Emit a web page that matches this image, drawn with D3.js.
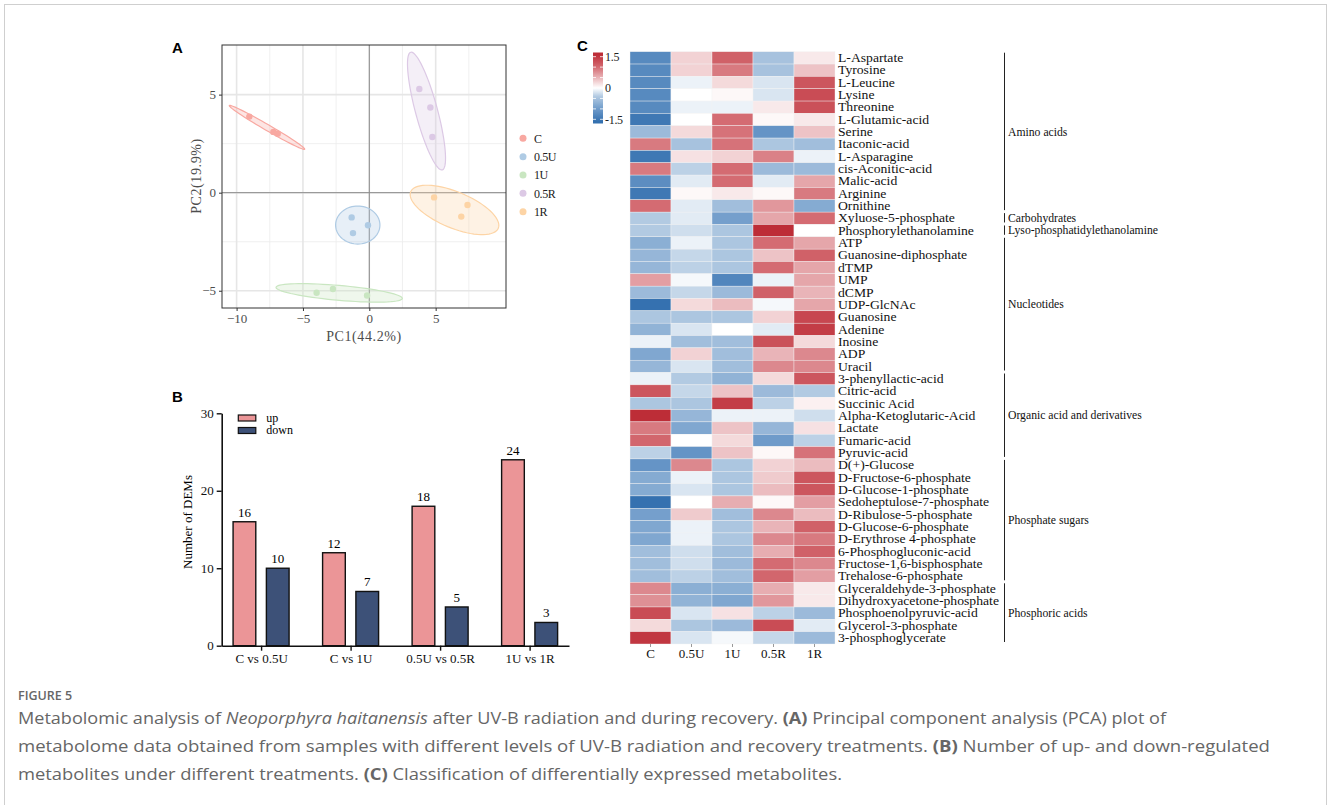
<!DOCTYPE html>
<html>
<head>
<meta charset="utf-8">
<script src="https://cdn.jsdelivr.net/npm/d3@7"></script>
<style>
  body { margin: 0; background: #fff; }
  svg { display: block; }
  .cap { font-family: "Open Sans", sans-serif; fill: #666; }
</style>
</head>
<body>
<div id="chart"></div>
<script>
const SERIF = "Liberation Serif, Times New Roman, serif";

// ---- data: panel A (PCA) ----
const pcaGroups = ["C", "0.5U", "1U", "0.5R", "1R"];
const pcaColors = ["#F8A8A1", "#AFCBE4", "#C9E6C1", "#DCC9E5", "#FDD4A5"];
const pcaX = [-9.04, -7.23, -6.9, -1.33, -0.1, -1.23, -3.97, -2.74, -0.17, 3.77, 4.6, 4.75, 4.88, 7.4, 6.93];
const pcaY = [3.88, 3.1, 3.01, -1.26, -1.66, -2.06, -5.1, -4.91, -5.24, 5.29, 4.34, 2.84, -0.24, -0.63, -1.22];
const pcaGroupOf = ["C", "C", "C", "0.5U", "0.5U", "0.5U", "1U", "1U", "1U", "0.5R", "0.5R", "0.5R", "1R", "1R", "1R"];
// ellipse centre + two half-axis vectors, in PC units
const ellCx = [-7.71, -0.87, -2.27, 4.31, 6.42];
const ellCy = [3.33, -1.65, -5.11, 4.16, -0.88];
const ellU = [[2.84, -1.115], [1.67, 0], [4.76, -0.28], [-1.19, 3.0], [3.3, -0.93]];
const ellV = [[-0.11, -0.13], [0, 0.97], [0, 0.38], [0.8, 0.15], [-0.52, -0.85]];

// ---- data: panel B (bars) ----
const comparisons = ["C vs 0.5U", "C vs 1U", "0.5U vs 0.5R", "1U vs 1R"];
const upCounts = [16, 12, 18, 24];
const downCounts = [10, 7, 5, 3];

// ---- data: panel C (heatmap) ----
const samples = ["C", "0.5U", "1U", "0.5R", "1R"];
const metabolites = [
  "L-Aspartate", "Tyrosine", "L-Leucine", "Lysine", "Threonine", "L-Glutamic-acid",
  "Serine", "Itaconic-acid", "L-Asparagine", "cis-Aconitic-acid", "Malic-acid", "Arginine",
  "Ornithine", "Xyluose-5-phosphate", "Phosphorylethanolamine", "ATP", "Guanosine-diphosphate",
  "dTMP", "UMP", "dCMP", "UDP-GlcNAc", "Guanosine", "Adenine", "Inosine", "ADP", "Uracil",
  "3-phenyllactic-acid", "Citric-acid", "Succinic Acid", "Alpha-Ketoglutaric-Acid", "Lactate",
  "Fumaric-acid", "Pyruvic-acid", "D(+)-Glucose", "D-Fructose-6-phosphate",
  "D-Glucose-1-phosphate", "Sedoheptulose-7-phosphate", "D-Ribulose-5-phosphate",
  "D-Glucose-6-phosphate", "D-Erythrose 4-phosphate", "6-Phosphogluconic-acid",
  "Fructose-1,6-bisphosphate", "Trehalose-6-phosphate", "Glyceraldehyde-3-phosphate",
  "Dihydroxyacetone-phosphate", "Phosphoenolpyruvic-acid", "Glycerol-3-phosphate",
  "3-phosphoglycerate"
];
const heatValues = [
  [-1.25, 0.3, 1.1, -0.5, 0.15],
  [-1.25, 0.3, 0.9, -0.5, 0.4],
  [-1.25, -0.1, 0.25, -0.2, 1.2],
  [-1.25, 0.0, 0.05, -0.2, 1.3],
  [-1.25, -0.1, -0.1, 0.15, 1.25],
  [-1.5, 0.0, 1.0, 0.05, 0.15],
  [-0.6, 0.25, 0.95, -1.1, 0.4],
  [0.9, -0.5, 0.95, -0.45, -0.55],
  [-1.5, 0.2, 0.3, 0.85, -0.1],
  [0.9, -0.35, 1.0, -0.6, -0.6],
  [-1.2, -0.15, 1.0, -0.15, 0.6],
  [-1.5, 0.05, 0.15, 0.05, 0.9],
  [1.0, -0.15, -0.55, 0.7, -0.8],
  [-0.4, -0.15, -0.95, 0.6, 1.0],
  [-0.4, -0.25, -0.45, 1.6, 0.0],
  [-0.75, -0.1, -0.45, 1.0, 0.6],
  [-0.65, -0.3, -0.45, 0.4, 1.1],
  [-0.65, -0.35, -0.45, 1.0, 0.6],
  [0.65, -0.05, -1.3, -0.1, 0.6],
  [-0.6, -0.3, -0.6, 1.1, 0.5],
  [-1.6, 0.25, 0.45, -0.05, 0.6],
  [-0.45, -0.45, -0.45, 0.3, 1.35],
  [-0.7, -0.2, 0.0, -0.15, 1.45],
  [-0.1, -0.55, -0.55, 1.25, 0.25],
  [-0.85, 0.3, -0.55, 0.5, 0.8],
  [-0.65, -0.2, -0.55, 0.8, 0.8],
  [-0.1, -0.4, -0.7, 0.25, 1.2],
  [1.2, -0.3, 0.4, -0.6, -0.4],
  [-0.45, -0.45, 1.45, -0.35, 0.1],
  [1.6, -0.65, -0.1, -0.1, -0.25],
  [0.9, -0.85, 0.4, -0.65, 0.2],
  [1.05, 0.0, 0.25, -1.0, -0.35],
  [-0.35, -1.1, 0.4, 0.05, 0.95],
  [-1.1, 0.8, -0.45, 0.3, 0.45],
  [-0.8, -0.1, -0.45, 0.35, 1.2],
  [-0.8, -0.2, -0.45, 0.45, 1.2],
  [-1.6, 0.0, 0.55, 0.05, 0.65],
  [-0.95, 0.35, -0.55, 0.8, 0.45],
  [-0.85, -0.1, -0.45, 0.5, 1.1],
  [-0.85, -0.1, -0.45, 0.8, 0.9],
  [-0.55, -0.25, -0.55, 0.55, 1.1],
  [-0.55, -0.25, -0.6, 1.0, 0.8],
  [-0.55, -0.35, -0.55, 1.05, 0.65],
  [0.8, -0.75, -0.75, 0.55, 0.15],
  [0.75, -0.7, -0.85, 0.7, 0.15],
  [1.3, -0.2, 0.2, -0.35, -0.6],
  [0.25, -0.45, -0.6, 1.3, -0.15],
  [1.5, -0.2, -0.05, -0.3, -0.6]
];
const classNames = ["Amino acids", "Carbohydrates", "Lyso-phosphatidylethanolamine", "Nucleotides",
  "Organic acid and derivatives", "Phosphate sugars", "Phosphoric acids"];
const classFirst = [0, 13, 14, 15, 26, 33, 43];
const classLast = [12, 13, 14, 25, 32, 42, 47];
const legendTicks = [1.5, 0, -1.5];

const svg = d3.select("#chart").append("svg")
  .attr("width", 1328)
  .attr("height", 805);

// outer frame
svg.append("rect")
  .attr("x", 4.5).attr("y", 4.5)
  .attr("width", 1322).attr("height", 830)
  .attr("fill", "none")
  .attr("stroke", "#cfcfcf");

function panelLabel(txt, x, y) {
  svg.append("text")
    .attr("x", x).attr("y", y)
    .attr("font-family", "Liberation Sans, Arial, sans-serif")
    .attr("font-weight", "bold")
    .attr("font-size", 15)
    .text(txt);
}

// ================= Panel A =================
const ax = d3.scaleLinear().domain([-11.1, 10.3]).range([222, 506]);
const ay = d3.scaleLinear().domain([-5.88, 7.53]).range([308, 45]);
const pcaColor = d3.scaleOrdinal(pcaGroups, pcaColors);

const gA = svg.append("g");
gA.append("rect")
  .attr("x", 222).attr("y", 45)
  .attr("width", 284).attr("height", 263)
  .attr("fill", "#fff");

// grid
const xMinor = [-7.5, -2.5, 2.5, 7.5], xMajor = [-10, -5, 0, 5];
const yMinor = [-2.5, 2.5], yMajor = [-5, 0, 5];
gA.selectAll(".vminor").data(xMinor).join("line")
  .attr("x1", d => ax(d)).attr("x2", d => ax(d))
  .attr("y1", 45).attr("y2", 308)
  .attr("stroke", "#ececec").attr("stroke-width", 0.8);
gA.selectAll(".hminor").data(yMinor).join("line")
  .attr("y1", d => ay(d)).attr("y2", d => ay(d))
  .attr("x1", 222).attr("x2", 506)
  .attr("stroke", "#ececec").attr("stroke-width", 0.8);
gA.selectAll(".vmajor").data(xMajor).join("line")
  .attr("x1", d => ax(d)).attr("x2", d => ax(d))
  .attr("y1", 45).attr("y2", 308)
  .attr("stroke", "#e6e6e6").attr("stroke-width", 1.6);
gA.selectAll(".hmajor").data(yMajor).join("line")
  .attr("y1", d => ay(d)).attr("y2", d => ay(d))
  .attr("x1", 222).attr("x2", 506)
  .attr("stroke", "#e6e6e6").attr("stroke-width", 1.6);

// zero lines
gA.append("line")
  .attr("x1", ax(0)).attr("x2", ax(0)).attr("y1", 45).attr("y2", 308)
  .attr("stroke", "#8a8a8a").attr("stroke-width", 1);
gA.append("line")
  .attr("y1", ay(0)).attr("y2", ay(0)).attr("x1", 222).attr("x2", 506)
  .attr("stroke", "#8a8a8a").attr("stroke-width", 1);

// confidence ellipses
const ellLine = d3.line().x(d => ax(d[0])).y(d => ay(d[1])).curve(d3.curveLinearClosed);
pcaGroups.forEach((g, i) => {
  const pts = d3.range(72).map(k => {
    const t = k / 72 * 2 * Math.PI;
    return [
      ellCx[i] + Math.cos(t) * ellU[i][0] + Math.sin(t) * ellV[i][0],
      ellCy[i] + Math.cos(t) * ellU[i][1] + Math.sin(t) * ellV[i][1]
    ];
  });
  gA.append("path")
    .attr("d", ellLine(pts))
    .attr("fill", pcaColor(g))
    .attr("fill-opacity", 0.3)
    .attr("stroke", pcaColor(g))
    .attr("stroke-width", 1.2);
});

// sample points
gA.selectAll(".pt").data(pcaX).join("circle")
  .attr("cx", d => ax(d))
  .attr("cy", (d, i) => ay(pcaY[i]))
  .attr("r", 3.2)
  .attr("fill", (d, i) => pcaColor(pcaGroupOf[i]));

// frame
gA.append("rect")
  .attr("x", 222).attr("y", 45)
  .attr("width", 284).attr("height", 263)
  .attr("fill", "none")
  .attr("stroke", "#333").attr("stroke-width", 1);

// axes
const axA = gA.append("g")
  .attr("transform", "translate(0,308)")
  .call(d3.axisBottom(ax).tickValues(xMajor).tickSize(3).tickPadding(3));
const ayA = gA.append("g")
  .attr("transform", "translate(222,0)")
  .call(d3.axisLeft(ay).tickValues(yMajor).tickSize(3).tickPadding(3));
[axA, ayA].forEach(a => {
  a.attr("font-family", SERIF).attr("font-size", 13);
  a.select(".domain").remove();
  a.selectAll("line").attr("stroke", "#333");
  a.selectAll("text").attr("fill", "#4d4d4d");
});

gA.append("text")
  .attr("font-family", SERIF)
  .attr("x", 364).attr("y", 341)
  .attr("text-anchor", "middle")
  .attr("font-size", 14)
  .attr("fill", "#4d4d4d")
  .attr("letter-spacing", 0.6)
  .text("PC1(44.2%)");
gA.append("text")
  .attr("font-family", SERIF)
  .attr("transform", "translate(201,176) rotate(-90)")
  .attr("text-anchor", "middle")
  .attr("font-size", 14)
  .attr("fill", "#4d4d4d")
  .attr("letter-spacing", 0.6)
  .text("PC2(19.9%)");

// legend
const legA = gA.selectAll(".leg").data(pcaGroups).join("g")
  .attr("transform", (d, i) => `translate(523,${138.3 + i * 18.35})`);
legA.append("circle").attr("r", 3.5).attr("fill", d => pcaColor(d));
legA.append("text")
  .attr("font-family", SERIF)
  .attr("x", 11).attr("dy", "0.35em")
  .attr("font-size", 12)
  .attr("fill", "#222")
  .attr("letter-spacing", -0.4)
  .text(d => d);

panelLabel("A", 172, 53);

// ================= Panel B =================
const bx = d3.scalePoint().domain(comparisons).range([221.7, 569]).padding(0.44);
const by = d3.scaleLinear().domain([0, 30]).range([645.7, 413.3]);
const barW = 22.7, barGap = 5.3;
const gB = svg.append("g");

gB.selectAll(".up").data(upCounts).join("rect")
  .attr("x", (d, i) => bx(comparisons[i]) - barGap - barW)
  .attr("y", d => by(d))
  .attr("width", barW)
  .attr("height", d => by(0) - by(d))
  .attr("fill", "#EB9597")
  .attr("stroke", "#111").attr("stroke-width", 1.4);
gB.selectAll(".down").data(downCounts).join("rect")
  .attr("x", (d, i) => bx(comparisons[i]) + barGap)
  .attr("y", d => by(d))
  .attr("width", barW)
  .attr("height", d => by(0) - by(d))
  .attr("fill", "#3D5178")
  .attr("stroke", "#111").attr("stroke-width", 1.4);

gB.selectAll(".upLab").data(upCounts).join("text")
  .attr("font-family", SERIF)
  .attr("x", (d, i) => bx(comparisons[i]) - barGap - barW / 2)
  .attr("y", d => by(d) - 5)
  .attr("text-anchor", "middle")
  .attr("font-size", 13)
  .text(d => d);
gB.selectAll(".downLab").data(downCounts).join("text")
  .attr("font-family", SERIF)
  .attr("x", (d, i) => bx(comparisons[i]) + barGap + barW / 2)
  .attr("y", d => by(d) - 5)
  .attr("text-anchor", "middle")
  .attr("font-size", 13)
  .text(d => d);

const bxAxis = gB.append("g")
  .attr("transform", `translate(0,${by(0)})`)
  .call(d3.axisBottom(bx).tickSize(5).tickSizeOuter(0).tickPadding(3));
const byAxis = gB.append("g")
  .attr("transform", "translate(221.7,0)")
  .call(d3.axisLeft(by).tickValues([0, 10, 20, 30]).tickSize(5).tickSizeOuter(0).tickPadding(3));
[bxAxis, byAxis].forEach(a => {
  a.attr("font-family", SERIF).attr("font-size", 13);
  a.select(".domain").attr("stroke", "#111").attr("stroke-width", 1.6);
  a.selectAll("line").attr("stroke", "#111").attr("stroke-width", 1.4);
  a.selectAll("text").attr("fill", "#111");
});

gB.append("text")
  .attr("font-family", SERIF)
  .attr("transform", "translate(192,522) rotate(-90)")
  .attr("text-anchor", "middle")
  .attr("font-size", 13)
  .text("Number of DEMs");

const legB = gB.selectAll(".legB").data([["up", "#EB9597"], ["down", "#3D5178"]]).join("g")
  .attr("transform", (d, i) => `translate(238.3,${418 + i * 12.5})`);
legB.append("rect")
  .attr("y", -3)
  .attr("width", 17.5).attr("height", 6)
  .attr("fill", d => d[1])
  .attr("stroke", "#111").attr("stroke-width", 1.2);
legB.append("text")
  .attr("font-family", SERIF)
  .attr("x", 28).attr("dy", "0.33em")
  .attr("font-size", 12)
  .text(d => d[0]);

panelLabel("B", 172, 402);

// ================= Panel C =================
const hx = d3.scaleBand().domain(samples).range([630, 835]);
const hy = d3.scaleBand().domain(metabolites).range([51.7, 644]);
const heatColor = d3.scaleLinear()
  .domain([-1.6, -1.0, -0.4, 0, 0.4, 1.0, 1.6])
  .range(["#3571B0", "#6F9BCA", "#B2CAE2", "#FFFFFF", "#EDC3C6", "#D46B72", "#BD2D37"])
  .clamp(true);
const gC = svg.append("g");

const cells = [];
heatValues.forEach((row, r) => row.forEach((v, c) => cells.push({ r, c, v })));
gC.selectAll(".cell").data(cells).join("rect")
  .attr("x", d => hx(samples[d.c]))
  .attr("y", d => hy(metabolites[d.r]))
  .attr("width", hx.bandwidth())
  .attr("height", hy.bandwidth())
  .attr("fill", d => heatColor(d.v))
  .attr("stroke", "#f2f2f2")
  .attr("stroke-width", 0.4);

// row labels (slightly stretched, like the original export)
const rowLabG = gC.append("g")
  .attr("transform", "translate(838,0) scale(1.14,1)");
rowLabG.selectAll(".rowLab").data(metabolites).join("text")
  .attr("font-family", SERIF)
  .attr("x", 0)
  .attr("y", d => hy(d) + hy.bandwidth() / 2)
  .attr("dy", "0.35em")
  .attr("font-size", 12)
  .attr("fill", "#111")
  .text(d => d);

// column labels
const hxAxis = gC.append("g")
  .attr("transform", "translate(0,644)")
  .call(d3.axisBottom(hx).tickSize(3).tickPadding(2));
hxAxis.attr("font-family", SERIF).attr("font-size", 13);
hxAxis.select(".domain").remove();
hxAxis.selectAll("line").attr("stroke", "#999");
hxAxis.selectAll("text").attr("fill", "#111");

// class brackets
classNames.forEach((name, i) => {
  const y0 = hy(metabolites[classFirst[i]]) + 1;
  const y1 = hy(metabolites[classLast[i]]) + hy.bandwidth() - 2;
  gC.append("line")
    .attr("x1", 1004.5).attr("x2", 1004.5)
    .attr("y1", y0).attr("y2", y1)
    .attr("stroke", "#222").attr("stroke-width", 1);
  gC.append("text")
    .attr("font-family", SERIF)
    .attr("x", 1008)
    .attr("y", (y0 + y1) / 2)
    .attr("dy", "0.35em")
    .attr("font-size", 11.7)
    .attr("fill", "#111")
    .text(name);
});

// colour legend
const ly = d3.scaleLinear().domain([-1.7, 1.7]).range([123.5, 52.5]);
const defs = svg.append("defs");
const grad = defs.append("linearGradient")
  .attr("id", "heatGrad")
  .attr("x1", 0).attr("x2", 0).attr("y1", 1).attr("y2", 0);
d3.range(-1.7, 1.71, 0.1).forEach(v => {
  grad.append("stop")
    .attr("offset", (v + 1.7) / 3.4)
    .attr("stop-color", heatColor(v));
});
gC.append("rect")
  .attr("x", 593).attr("y", ly(1.7))
  .attr("width", 10).attr("height", ly(-1.7) - ly(1.7))
  .attr("fill", "url(#heatGrad)");
const legendMarks = [1.5, 1, 0.5, 0, -0.5, -1, -1.5];
gC.selectAll(".lt").data(legendMarks).join("line")
  .attr("x1", 593).attr("x2", 596)
  .attr("y1", d => ly(d)).attr("y2", d => ly(d))
  .attr("stroke", "#fff").attr("stroke-width", 0.8);
gC.selectAll(".lt2").data(legendMarks).join("line")
  .attr("x1", 600).attr("x2", 603)
  .attr("y1", d => ly(d)).attr("y2", d => ly(d))
  .attr("stroke", "#fff").attr("stroke-width", 0.8);
gC.selectAll(".ll").data(legendTicks).join("text")
  .attr("font-family", SERIF)
  .attr("x", 605)
  .attr("y", d => ly(d))
  .attr("dy", "0.35em")
  .attr("font-size", 12)
  .attr("fill", "#222")
  .attr("letter-spacing", -0.3)
  .text(d => d);

panelLabel("C", 577, 51);

// ================= Caption =================
svg.append("text")
  .attr("class", "cap")
  .attr("x", 18).attr("y", 700)
  .attr("font-size", 12.5)
  .attr("font-weight", 600)
  .text("FIGURE 5");

const capLines = [
  [["Metabolomic analysis of ", ""], ["Neoporphyra haitanensis", "i"], [" after UV-B radiation and during recovery. ", ""], ["(A)", "b"], [" Principal component analysis (PCA) plot of", ""]],
  [["metabolome data obtained from samples with different levels of UV-B radiation and recovery treatments. ", ""], ["(B)", "b"], [" Number of up- and down-regulated", ""]],
  [["metabolites under different treatments. ", ""], ["(C)", "b"], [" Classification of differentially expressed metabolites.", ""]]
];
const capWidths = [1148, 1252, 824];
capLines.forEach((parts, i) => {
  const t = svg.append("text")
    .attr("class", "cap")
    .attr("x", 18).attr("y", 724 + i * 28)
    .attr("font-size", 16.5)
    .attr("textLength", capWidths[i])
    .attr("lengthAdjust", "spacingAndGlyphs");
  parts.forEach(p => {
    t.append("tspan")
      .attr("font-style", p[1] === "i" ? "italic" : null)
      .attr("font-weight", p[1] === "b" ? 700 : null)
      .text(p[0]);
  });
});
</script>
</body>
</html>
